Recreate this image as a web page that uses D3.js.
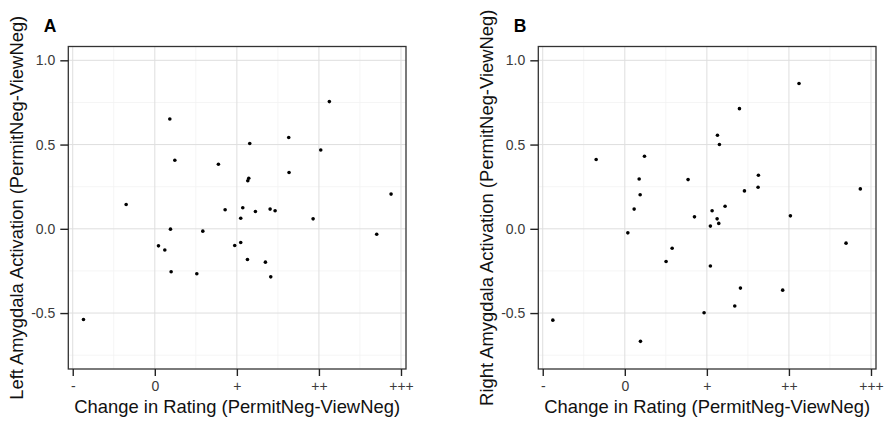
<!DOCTYPE html>
<html>
<head>
<meta charset="utf-8">
<script src="https://cdn.jsdelivr.net/npm/d3@7"></script>
<style>
  body { margin: 0; background: #fff; }
  svg { display: block; font-family: "Liberation Sans", Arial, sans-serif; }
</style>
</head>
<body>
<svg id="chart" width="892" height="427"></svg>
<script>
// x tick positions and their labels
const ratingTicks = [-1, 0, 1, 2, 3];
const ratingLabels = ["-", "0", "+", "++", "+++"];
const activationTicks = [-0.5, 0.0, 0.5, 1.0];

// panel A: left amygdala
const leftX = [-0.869, -0.349, 0.183, 0.244, 0.191, 0.045, 0.122, 0.199, 0.512, 0.585,
  0.775, 0.857, 0.974, 1.047, 1.047, 1.072, 1.129, 1.133, 1.145, 1.157,
  1.226, 1.348, 1.405, 1.413, 1.466, 1.632, 1.636, 1.929, 2.022, 2.127,
  2.704, 2.879];
const leftY = [-0.538, 0.144, 0.652, 0.407, -0.002, -0.101, -0.126, -0.255, -0.267, -0.014,
  0.383, 0.113, -0.099, -0.081, 0.063, 0.125, -0.182, 0.285, 0.300, 0.506,
  0.103, -0.198, 0.117, -0.285, 0.107, 0.542, 0.334, 0.059, 0.468, 0.755,
  -0.032, 0.206];

// panel B: right amygdala
const rightX = [-0.877, -0.349, 0.037, 0.114, 0.175, 0.187, 0.240, 0.191, 0.503, 0.577,
  0.771, 0.849, 0.966, 1.043, 1.043, 1.064, 1.125, 1.129, 1.145, 1.153,
  1.222, 1.340, 1.397, 1.409, 1.458, 1.624, 1.628, 1.924, 2.018, 2.123,
  2.696, 2.870];
const rightY = [-0.542, 0.411, -0.024, 0.117, 0.296, 0.202, 0.431, -0.668, -0.194, -0.115,
  0.292, 0.071, -0.498, 0.016, -0.221, 0.107, 0.059, 0.555, 0.032, 0.500,
  0.134, -0.458, 0.713, -0.352, 0.225, 0.247, 0.318, -0.364, 0.077, 0.862,
  -0.085, 0.237];

const svg = d3.select("#chart");

function ScatterPanel(opts)
{
    const left = opts.left, right = opts.left + 337.7;
    const top = 46.5, bottom = 369;

    const x = d3.scaleLinear().domain([-1.054, 3.061]).range([left, right]);
    const y = d3.scaleLinear().domain([-0.832, 1.082]).range([bottom, top]);

    const g = svg.append("g");

    // minor grid at the half steps
    const minorX = d3.range(-0.5, 3, 1);
    const minorY = [-0.75, -0.25, 0.25, 0.75];
    g.append("g").attr("stroke", "#f2f2f2").attr("stroke-width", 0.8)
        .selectAll("line").data(minorX).join("line")
        .attr("x1", d => x(d)).attr("x2", d => x(d)).attr("y1", top).attr("y2", bottom);
    g.append("g").attr("stroke", "#f2f2f2").attr("stroke-width", 0.8)
        .selectAll("line").data(minorY).join("line")
        .attr("y1", d => y(d)).attr("y2", d => y(d)).attr("x1", left).attr("x2", right);

    // major grid
    g.append("g").attr("stroke", "#dedede").attr("stroke-width", 1)
        .selectAll("line").data(ratingTicks).join("line")
        .attr("x1", d => x(d)).attr("x2", d => x(d)).attr("y1", top).attr("y2", bottom);
    g.append("g").attr("stroke", "#dedede").attr("stroke-width", 1)
        .selectAll("line").data(activationTicks).join("line")
        .attr("y1", d => y(d)).attr("y2", d => y(d)).attr("x1", left).attr("x2", right);

    // points
    g.append("g").attr("fill", "#000")
        .selectAll("circle").data(opts.xs.map((d, i) => [d, opts.ys[i]])).join("circle")
        .attr("cx", d => x(d[0]))
        .attr("cy", d => y(d[1]))
        .attr("r", 1.8);

    // panel border
    g.append("rect")
        .attr("x", left).attr("y", top)
        .attr("width", right - left).attr("height", bottom - top)
        .attr("fill", "none").attr("stroke", "#333").attr("stroke-width", 1.3);

    // x axis
    const xAxis = g.append("g")
        .attr("transform", `translate(0,${bottom})`)
        .call(d3.axisBottom(x).tickValues(ratingTicks)
            .tickFormat((d, i) => ratingLabels[i]).tickSize(7).tickPadding(5));
    xAxis.select(".domain").remove();
    xAxis.selectAll(".tick line").attr("stroke", "#222").attr("stroke-width", 1.4);
    xAxis.selectAll(".tick text").attr("font-size", 14).attr("fill", "#3a3a3a")
        .attr("font-family", "Liberation Sans, Arial, sans-serif");

    // y axis
    const yAxis = g.append("g")
        .attr("transform", `translate(${left},0)`)
        .call(d3.axisLeft(y).tickValues(activationTicks)
            .tickFormat(d3.format(".1f")).tickSize(8).tickPadding(5));
    yAxis.select(".domain").remove();
    yAxis.selectAll(".tick line").attr("stroke", "#222").attr("stroke-width", 1.4);
    yAxis.selectAll(".tick text").attr("font-size", 14).attr("fill", "#3a3a3a")
        .attr("font-family", "Liberation Sans, Arial, sans-serif")
        .text(d => d3.format(".1f")(d).replace("−", "-"));

    // titles
    g.append("text")
        .attr("x", (left + right) / 2).attr("y", 413)
        .attr("text-anchor", "middle")
        .attr("font-size", 18.4)
        .attr("fill", "#111")
        .text("Change in Rating (PermitNeg-ViewNeg)");

    g.append("text")
        .attr("transform", `translate(${left - 45},${(top + bottom) / 2}) rotate(-90)`)
        .attr("text-anchor", "middle")
        .attr("font-size", 18.4)
        .attr("fill", "#111")
        .text(opts.yTitle);

    g.append("text")
        .attr("x", left - 24.5).attr("y", 32)
        .attr("font-size", 17.5)
        .attr("font-weight", "bold")
        .text(opts.tag);
}

ScatterPanel({ left: 68.3, xs: leftX, ys: leftY, tag: "A",
    yTitle: "Left Amygdala Activation (PermitNeg-ViewNeg)" });
ScatterPanel({ left: 538.3, xs: rightX, ys: rightY, tag: "B",
    yTitle: "Right Amygdala Activation (PermitNeg-ViewNeg)" });
</script>
</body>
</html>
